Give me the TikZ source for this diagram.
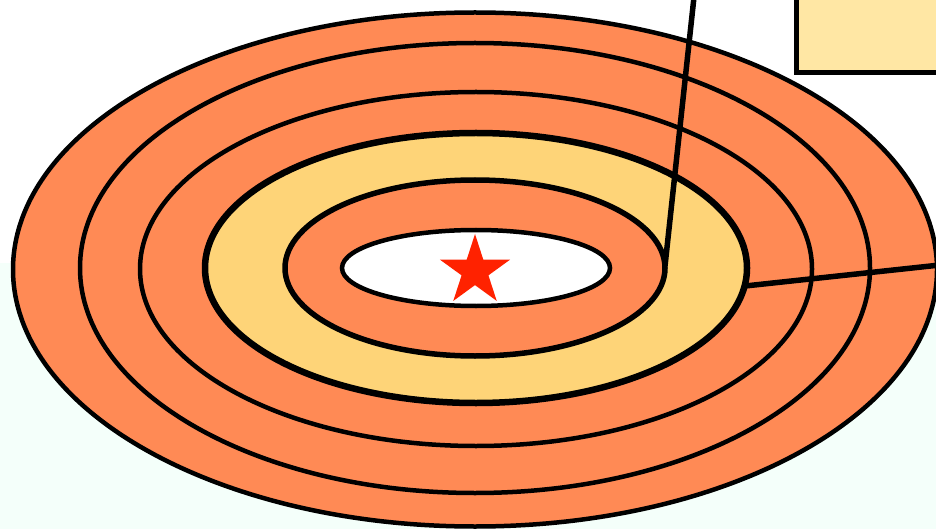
\documentclass[tikz,border=0pt]{standalone}
\definecolor{ringorange}{HTML}{FF8A55}
\definecolor{ringyellow}{HTML}{FED478}
\definecolor{boxyellow}{HTML}{FFE7A4}
\definecolor{mint}{HTML}{F4FFFA}
\definecolor{starred}{HTML}{FF2200}
\begin{document}
\begin{tikzpicture}[x=1pt,y=-1pt,
  ring/.style={draw=black,line width=4.5pt,fill=ringorange},
  band/.style={draw=black,line width=6.5pt,fill=ringyellow},
  lead/.style={draw=black,line width=5.5pt},
  panel/.style={draw=black,line width=5pt,fill=boxyellow}]
\useasboundingbox (0,0) rectangle (936,529);
\clip (0,0) rectangle (936,529);
\fill[white] (0,0) rectangle (936,263);
\fill[mint] (0,263) rectangle (936,529);
% panel
\path[panel] (796,-10) rectangle (950,73);
% rings
\path[ring] (475,269.5) ellipse [x radius=462,y radius=257];
\path[ring] (475,268) ellipse [x radius=395,y radius=225];
\path[ring] (476,269) ellipse [x radius=336,y radius=177];
\path[band] (476,268) ellipse [x radius=271,y radius=135];
\path[ring,line width=5.5pt] (475,268) ellipse [x radius=190,y radius=88];
\path[ring,fill=white] (476,268) ellipse [x radius=134,y radius=38];
% star
\fill[starred] (475,271)
  +(-90:37) -- +(-54:14.1) -- +(-18:37) -- +(18:14.1) -- +(54:37)
  -- +(90:14.1) -- +(126:37) -- +(162:14.1) -- +(198:37) -- +(234:14.1) -- cycle;
% leader lines
\coordinate (a1) at (694,-3);
\coordinate (a2) at (665,266);
\coordinate (b1) at (745,286);
\coordinate (b2) at (940,265);
\draw[lead] (a1) -- (a2);
\draw[lead] (b1) -- (b2);
\end{tikzpicture}
\end{document}
